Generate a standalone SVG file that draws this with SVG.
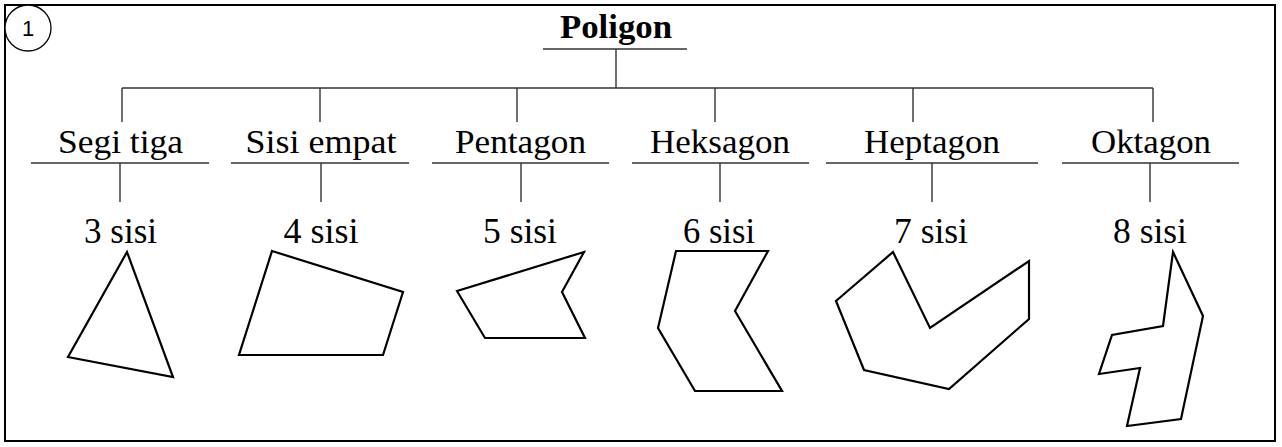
<svg xmlns="http://www.w3.org/2000/svg" width="1282" height="447" viewBox="0 0 1282 447">
<style>
.ln{stroke:#333;stroke-width:1.4;fill:none}
.sh{stroke:#000;stroke-width:2.2;fill:none;stroke-linejoin:miter}
.t{font-family:"Liberation Serif","Times New Roman",serif;fill:#000;text-anchor:middle}
.h{font-size:33px}
.s{font-size:35px}
</style>
<rect x="0" y="0" width="1282" height="447" fill="#fff"/>
<rect x="5" y="5" width="1270" height="436" fill="none" stroke="#000" stroke-width="2"/>
<g id="badge">
<circle cx="28" cy="28" r="23" fill="#fff" stroke="#000" stroke-width="1.3"/>
<text x="28" y="36" font-family="'Liberation Sans',Arial,sans-serif" font-size="22" text-anchor="middle">1</text>
</g>
<g id="root">
<text class="t" x="616" y="38" font-size="34" font-weight="bold" textLength="112" lengthAdjust="spacingAndGlyphs">Poligon</text>
<line class="ln" x1="543" y1="49" x2="687" y2="49"/>
</g>
<g id="connectors">
<line class="ln" x1="616" y1="49" x2="616" y2="88"/>
<line class="ln" x1="122" y1="88" x2="1153" y2="88"/>
<line class="ln" x1="122" y1="88" x2="122" y2="122"/>
<line class="ln" x1="320" y1="88" x2="320" y2="122"/>
<line class="ln" x1="517" y1="88" x2="517" y2="122"/>
<line class="ln" x1="715" y1="88" x2="715" y2="122"/>
<line class="ln" x1="913" y1="88" x2="913" y2="122"/>
<line class="ln" x1="1153" y1="88" x2="1153" y2="122"/>
<line class="ln" x1="120" y1="163" x2="120" y2="202"/>
<line class="ln" x1="321" y1="163" x2="321" y2="202"/>
<line class="ln" x1="521" y1="163" x2="521" y2="202"/>
<line class="ln" x1="720" y1="163" x2="720" y2="202"/>
<line class="ln" x1="932" y1="163" x2="932" y2="202"/>
<line class="ln" x1="1150" y1="163" x2="1150" y2="202"/>
</g>
<g id="segitiga">
<text class="t h" x="120.5" y="153" textLength="125" lengthAdjust="spacingAndGlyphs">Segi tiga</text>
<line class="ln" x1="31" y1="163" x2="209" y2="163"/>
<text class="t s" x="120.5" y="243" textLength="73" lengthAdjust="spacingAndGlyphs">3 sisi</text>
<polygon class="sh" points="127,252 68,357 173,377"/>
</g>
<g id="sisiempat">
<text class="t h" x="321" y="153" textLength="151" lengthAdjust="spacingAndGlyphs">Sisi empat</text>
<line class="ln" x1="231" y1="163" x2="409" y2="163"/>
<text class="t s" x="321" y="243" textLength="75" lengthAdjust="spacingAndGlyphs">4 sisi</text>
<polygon class="sh" points="272,251 403,292 383,355 239,355"/>
</g>
<g id="pentagon">
<text class="t h" x="520.5" y="153" textLength="131" lengthAdjust="spacingAndGlyphs">Pentagon</text>
<line class="ln" x1="432" y1="163" x2="609" y2="163"/>
<text class="t s" x="520" y="243" textLength="74" lengthAdjust="spacingAndGlyphs">5 sisi</text>
<polygon class="sh" points="457,291 584,252 562,292 585,338 485,338"/>
</g>
<g id="heksagon">
<text class="t h" x="720" y="153" textLength="140" lengthAdjust="spacingAndGlyphs">Heksagon</text>
<line class="ln" x1="632" y1="163" x2="809" y2="163"/>
<text class="t s" x="719" y="243" textLength="72" lengthAdjust="spacingAndGlyphs">6 sisi</text>
<polygon class="sh" points="676,251 768,251 735,311 782,391 695,391 658,328"/>
</g>
<g id="heptagon">
<text class="t h" x="932" y="153" textLength="136" lengthAdjust="spacingAndGlyphs">Heptagon</text>
<line class="ln" x1="826" y1="163" x2="1038" y2="163"/>
<text class="t s" x="931" y="243" textLength="74" lengthAdjust="spacingAndGlyphs">7 sisi</text>
<polygon class="sh" points="893,252 930,328 1029,261 1029,319 949,389 864,370 836,301"/>
</g>
<g id="oktagon">
<text class="t h" x="1151" y="153" textLength="120" lengthAdjust="spacingAndGlyphs">Oktagon</text>
<line class="ln" x1="1062" y1="163" x2="1239" y2="163"/>
<text class="t s" x="1150" y="243" textLength="74" lengthAdjust="spacingAndGlyphs">8 sisi</text>
<polygon class="sh" points="1173,252 1203,316 1181,419 1127,426 1140,368 1099,374 1112,335 1163,326"/>
</g>
</svg>
